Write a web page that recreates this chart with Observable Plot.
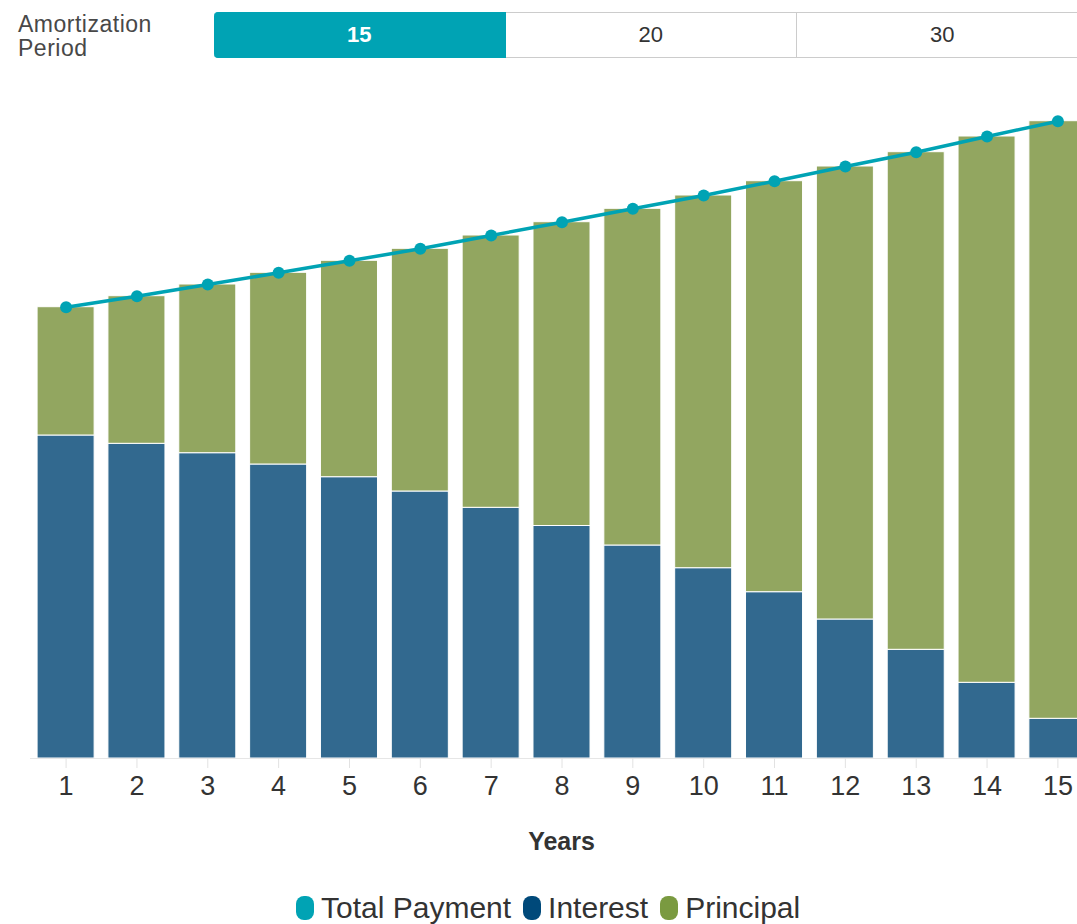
<!DOCTYPE html>
<html>
<head>
<meta charset="utf-8">
<script src="https://cdn.jsdelivr.net/npm/d3@7"></script>
<script src="https://cdn.jsdelivr.net/npm/@observablehq/plot@0.6"></script>
<style>
  html, body { margin: 0; padding: 0; background: #fff; }
  body { width: 1077px; height: 924px; overflow: hidden; position: relative;
         font-family: "Liberation Sans", Arial, sans-serif; }
  .period-line { position: absolute; left: 18px; font-size: 23px; line-height: 24px; height: 24px;
         letter-spacing: 0.5px; color: #484848; white-space: nowrap; }
  #period-buttons { position: absolute; left: 214px; top: 12px; height: 46px; display: flex; box-sizing: border-box; }
  #period-buttons .seg { width: 291.5px; height: 46px; box-sizing: border-box; border: 1px solid #ccc;
         border-left: none; display: flex; align-items: center; justify-content: center;
         font-size: 22px; color: #333; background: #fff; }
  #period-buttons .seg.active { background: #00a3b4; color: #fff; font-weight: bold; border-color: #00a3b4;
         border-radius: 4px 0 0 4px; }
  #chart { position: absolute; left: 0; top: 70px; }
  #chart svg { max-width: none; }
  #x-title { position: absolute; left: 0; width: 1123px; top: 826px; text-align: center;
         font-size: 25px; font-weight: bold; color: #333; line-height: 30px; }
  #legend { position: absolute; left: 296px; top: 891px; display: flex; align-items: center;
         font-size: 30px; line-height: 34px; color: #333; white-space: nowrap; }
  #legend .item { display: flex; align-items: center; margin-right: 12px; }
  #legend .sym { width: 18px; height: 24px; border-radius: 8px; margin-right: 7px; }
</style>
</head>
<body>
<div class="period-line" style="top: 12px">Amortization</div>
<div class="period-line" style="top: 36px">Period</div>
<div id="period-buttons"></div>
<div id="chart"></div>
<div id="x-title">Years</div>
<div id="legend"></div>
<script>
// Amortization schedule, 15-year period (yearly amounts)
const periods = ["15", "20", "30"];
const activePeriod = "15";
const years = [1, 2, 3, 4, 5, 6, 7, 8, 9, 10, 11, 12, 13, 14, 15];
const totalPayment = [45130, 46230, 47400, 48570, 49770, 50970, 52300, 53630, 54970, 56300, 57730, 59200, 60630, 62200, 63730];
const interest     = [32300, 31470, 30530, 29400, 28130, 26700, 25070, 23250, 21300, 19030, 16630, 13900, 10870, 7570, 3970];
const principal    = [12830, 14760, 16870, 19170, 21640, 24270, 27230, 30380, 33670, 37270, 41100, 45300, 49760, 54630, 59760];
const seriesNames  = ["Total Payment", "Interest", "Principal"];

const teal = "#00a3b4";
const barColors = {Interest: "#32698f", Principal: "#92a660"};
const legendColors = {"Total Payment": teal, Interest: "#00497a", Principal: "#7a9a40"};

// period selector
const btns = document.getElementById("period-buttons");
for (const p of periods) {
  const d = document.createElement("div");
  d.className = "seg" + (p === activePeriod ? " active" : "");
  d.textContent = p;
  btns.appendChild(d);
}

// long-format rows for the stacked bars: interest at the bottom, principal on top
const rows = [];
years.forEach((yr, i) => {
  rows.push({year: yr, part: "Interest", amount: interest[i]});
  rows.push({year: yr, part: "Principal", amount: principal[i]});
});
const totals = years.map((yr, i) => ({year: yr, total: totalPayment[i]}));

const chart = Plot.plot({
  width: 1093,
  height: 738,
  marginLeft: 30,
  marginRight: 0,
  marginTop: 20,
  marginBottom: 50,
  style: {fontFamily: "'Liberation Sans', Arial, sans-serif", overflow: "visible", background: "transparent", maxWidth: "none"},
  x: {type: "band", domain: years, paddingInner: 0.195, paddingOuter: 0.1, round: false, label: null},
  y: {domain: [0, 66800], axis: null},
  color: {domain: ["Interest", "Principal"], range: [barColors.Interest, barColors.Principal]},
  marks: [
    Plot.barY(rows, {x: "year", y: "amount", fill: "part", stroke: "#fff", strokeWidth: 1}),
    Plot.ruleY([0], {stroke: "#e6e6e6", strokeWidth: 1}),
    Plot.axisX({text: null, tickSize: 10, color: "#e2e2e2"}),
    Plot.axisX({tickSize: 0, tickPadding: 17, fontSize: 27, color: "#333", label: null}),
    Plot.line(totals, {x: "year", y: "total", stroke: teal, strokeWidth: 3.5}),
    Plot.dot(totals, {x: "year", y: "total", r: 6, fill: teal})
  ]
});
document.getElementById("chart").appendChild(chart);

// legend
const legend = document.getElementById("legend");
for (const name of seriesNames) {
  const item = document.createElement("div");
  item.className = "item";
  const sym = document.createElement("span");
  sym.className = "sym";
  sym.style.background = legendColors[name];
  const label = document.createElement("span");
  label.textContent = name;
  item.appendChild(sym);
  item.appendChild(label);
  legend.appendChild(item);
}
</script>
</body>
</html>
